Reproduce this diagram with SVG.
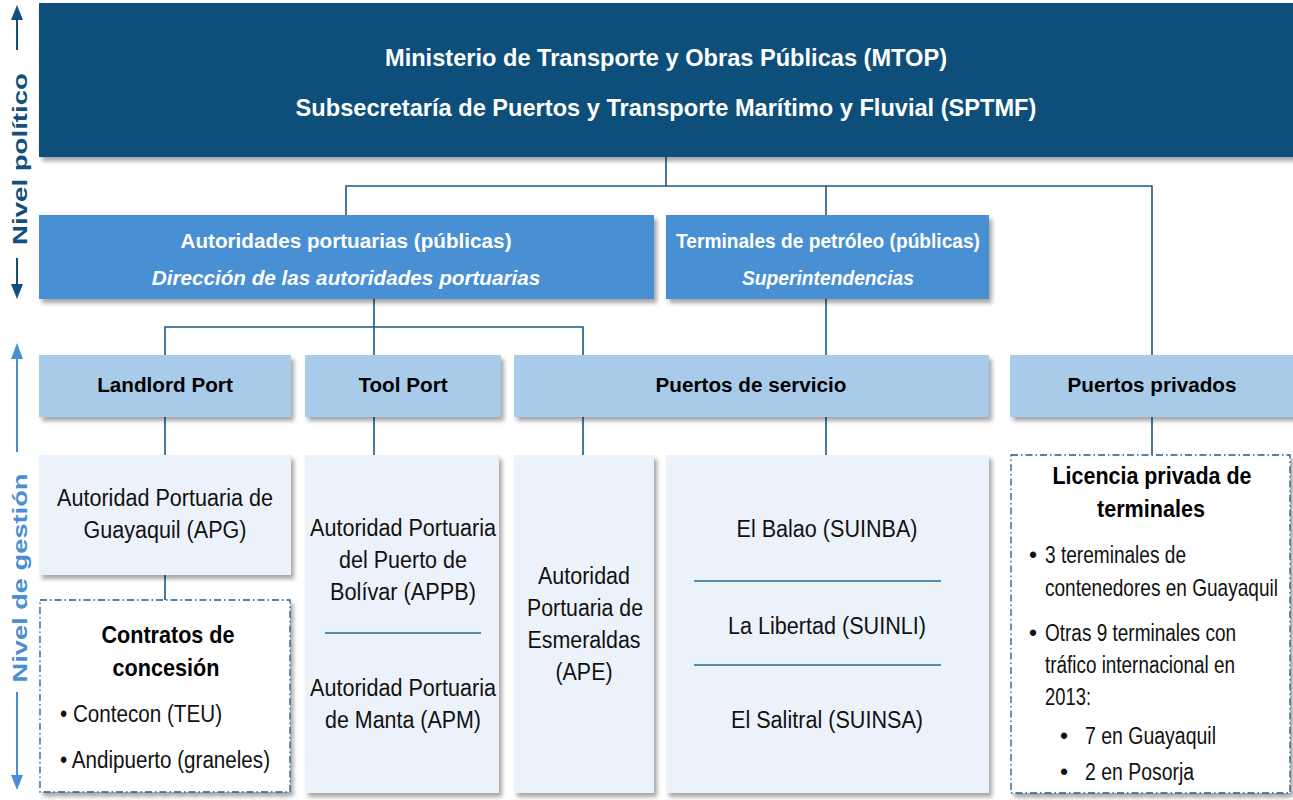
<svg xmlns="http://www.w3.org/2000/svg" width="1293" height="800" viewBox="0 0 1293 800">
<defs>
<filter id="sh" x="-5%" y="-5%" width="115%" height="120%">
<feDropShadow dx="3" dy="4" stdDeviation="2" flood-color="#000" flood-opacity="0.35"/>
</filter>
</defs>
<style>
.l1{fill:#11507a}
.l2{fill:#4a8fd4}
.l3{fill:#a8cbea}
.l4{fill:#ebf2fa}
.dash{fill:#fff;stroke:#1f5c8a;stroke-width:1.3;stroke-dasharray:7 3 1.5 3}
.con{fill:none;stroke:#1a5a85;stroke-width:1.6}
.sep{stroke:#2a6797;stroke-width:1.6}
.tw{font-family:"Liberation Sans",Arial,sans-serif;font-weight:bold;fill:#fff;text-anchor:middle}
.tb{font-family:"Liberation Sans",Arial,sans-serif;font-weight:bold;fill:#000;text-anchor:middle;font-size:20.7px}
.hb{font-family:"Liberation Sans",Arial,sans-serif;font-weight:bold;fill:#000;text-anchor:middle;font-size:24px}
.tn{font-family:"Liberation Sans",Arial,sans-serif;fill:#111;font-size:23px}
.c{text-anchor:middle}
.side{font-family:"Liberation Sans",Arial,sans-serif;font-weight:bold;font-size:21px;text-anchor:middle}
</style>
<rect width="1293" height="800" fill="#fff"/>

<g id="side">
<line x1="17" y1="50" x2="17" y2="10" stroke="#11507a" stroke-width="2"/>
<path d="M11,20 L17,5 L23,20 Z" fill="#11507a"/>
<line x1="17" y1="258" x2="17" y2="290" stroke="#11507a" stroke-width="2"/>
<path d="M11,284 L17,299 L23,284 Z" fill="#11507a"/>
<text transform="translate(26.5,159) rotate(-90)" class="side" fill="#11507a" textLength="172" lengthAdjust="spacingAndGlyphs">Nivel político</text>
<line x1="17" y1="452" x2="17" y2="350" stroke="#4a8fd4" stroke-width="2"/>
<path d="M11,359 L17,343 L23,359 Z" fill="#4a8fd4"/>
<line x1="17" y1="692" x2="17" y2="780" stroke="#4a8fd4" stroke-width="2"/>
<path d="M11,775 L17,790 L23,775 Z" fill="#4a8fd4"/>
<text transform="translate(26.5,578) rotate(-90)" class="side" fill="#4a8fd4" textLength="209" lengthAdjust="spacingAndGlyphs">Nivel de gestión</text>
</g>

<g id="connectors" class="con">
<path d="M666,157 V186 M346,215 V186 H1152 V355 M826,186 V215"/>
<path d="M374,299 V355 M165,355 V327 H583 V355"/>
<path d="M826,299 V355"/>
<path d="M165,417 V455 M374,417 V455 M583,417 V455 M826,417 V455 M1152,417 V455"/>
<path d="M165,575 V600"/>
</g>

<g id="mtop">
<rect x="39" y="3" width="1260" height="154" class="l1" filter="url(#sh)"/>
<text x="666" y="66" class="tw" font-size="23.6">Ministerio de Transporte y Obras Públicas (MTOP)</text>
<text x="666" y="116" class="tw" font-size="23.6">Subsecretaría de Puertos y Transporte Marítimo y Fluvial (SPTMF)</text>
</g>

<g id="autoridades">
<rect x="39" y="215" width="615" height="84" class="l2" filter="url(#sh)"/>
<text x="346" y="248" class="tw" font-size="20.7">Autoridades portuarias (públicas)</text>
<text x="346" y="285" class="tw" font-size="20.7" font-style="italic">Dirección de las autoridades portuarias</text>
</g>

<g id="terminales">
<rect x="666" y="215" width="323" height="84" class="l2" filter="url(#sh)"/>
<text x="828" y="248" class="tw" font-size="21" textLength="304" lengthAdjust="spacingAndGlyphs">Terminales de petróleo (públicas)</text>
<text x="828" y="285" class="tw" font-size="21" font-style="italic" textLength="172" lengthAdjust="spacingAndGlyphs">Superintendencias</text>
</g>

<g id="landlord">
<rect x="39" y="355" width="252" height="62" class="l3" filter="url(#sh)"/>
<text x="165" y="392" class="tb">Landlord Port</text>
</g>
<g id="toolport">
<rect x="305" y="355" width="196" height="62" class="l3" filter="url(#sh)"/>
<text x="403" y="392" class="tb">Tool Port</text>
</g>
<g id="servicio">
<rect x="514" y="355" width="475" height="62" class="l3" filter="url(#sh)"/>
<text x="751" y="392" class="tb">Puertos de servicio</text>
</g>
<g id="privados">
<rect x="1010" y="355" width="290" height="62" class="l3" filter="url(#sh)"/>
<text x="1152" y="392" class="tb">Puertos privados</text>
</g>

<g id="apg">
<rect x="39" y="455" width="252" height="120" class="l4" filter="url(#sh)"/>
<text x="165" y="506" class="tn c" textLength="216" lengthAdjust="spacingAndGlyphs">Autoridad Portuaria de</text>
<text x="165" y="538" class="tn c" textLength="163" lengthAdjust="spacingAndGlyphs">Guayaquil (APG)</text>
</g>

<g id="contratos">
<rect x="40" y="600" width="250" height="192" class="dash" filter="url(#sh)"/>
<text x="168" y="643" class="hb" textLength="133" lengthAdjust="spacingAndGlyphs">Contratos de</text>
<text x="166" y="676" class="hb" textLength="107" lengthAdjust="spacingAndGlyphs">concesión</text>
<text x="60" y="722" class="tn" textLength="162" lengthAdjust="spacingAndGlyphs">• Contecon (TEU)</text>
<text x="60" y="768" class="tn" textLength="210" lengthAdjust="spacingAndGlyphs">• Andipuerto (graneles)</text>
</g>

<g id="appb">
<rect x="305" y="455" width="194" height="338" class="l4" filter="url(#sh)"/>
<text x="403" y="536" class="tn c" textLength="186" lengthAdjust="spacingAndGlyphs">Autoridad Portuaria</text>
<text x="403" y="568" class="tn c" textLength="128" lengthAdjust="spacingAndGlyphs">del Puerto de</text>
<text x="403" y="600" class="tn c" textLength="146" lengthAdjust="spacingAndGlyphs">Bolívar (APPB)</text>
<line x1="325" y1="633" x2="481" y2="633" class="sep"/>
<text x="403" y="696" class="tn c" textLength="186" lengthAdjust="spacingAndGlyphs">Autoridad Portuaria</text>
<text x="403" y="728" class="tn c" textLength="156" lengthAdjust="spacingAndGlyphs">de Manta (APM)</text>
</g>

<g id="ape">
<rect x="514" y="455" width="140" height="338" class="l4" filter="url(#sh)"/>
<text x="584" y="584" class="tn c" textLength="92" lengthAdjust="spacingAndGlyphs">Autoridad</text>
<text x="585" y="616" class="tn c" textLength="116" lengthAdjust="spacingAndGlyphs">Portuaria de</text>
<text x="584" y="648" class="tn c" textLength="113" lengthAdjust="spacingAndGlyphs">Esmeraldas</text>
<text x="584" y="680" class="tn c" textLength="57" lengthAdjust="spacingAndGlyphs">(APE)</text>
</g>

<g id="superint">
<rect x="666" y="455" width="323" height="338" class="l4" filter="url(#sh)"/>
<text x="827" y="537" class="tn c" textLength="181" lengthAdjust="spacingAndGlyphs">El Balao (SUINBA)</text>
<line x1="694" y1="581" x2="941" y2="581" class="sep"/>
<text x="827" y="634" class="tn c" textLength="198" lengthAdjust="spacingAndGlyphs">La Libertad (SUINLI)</text>
<line x1="694" y1="665" x2="941" y2="665" class="sep"/>
<text x="827" y="728" class="tn c" textLength="192" lengthAdjust="spacingAndGlyphs">El Salitral (SUINSA)</text>
</g>

<g id="licencia">
<rect x="1011" y="455" width="279" height="338" class="dash" filter="url(#sh)"/>
<text x="1152" y="484" class="hb" textLength="199" lengthAdjust="spacingAndGlyphs">Licencia privada de</text>
<text x="1151" y="517" class="hb" textLength="108" lengthAdjust="spacingAndGlyphs">terminales</text>
<text x="1029" y="563" class="tn">•</text>
<text x="1045" y="563" class="tn" textLength="141" lengthAdjust="spacingAndGlyphs">3 tereminales de</text>
<text transform="translate(1045,596) scale(0.8286,1)" class="tn">contenedores en Guayaquil</text>
<text x="1029" y="641" class="tn">•</text>
<text x="1045" y="641" class="tn" textLength="191" lengthAdjust="spacingAndGlyphs">Otras 9 terminales con</text>
<text x="1045" y="673" class="tn" textLength="190" lengthAdjust="spacingAndGlyphs">tráfico internacional en</text>
<text x="1045" y="705" class="tn" textLength="46" lengthAdjust="spacingAndGlyphs">2013:</text>
<text x="1060" y="744" class="tn">•</text>
<text x="1085" y="744" class="tn" textLength="131" lengthAdjust="spacingAndGlyphs">7 en Guayaquil</text>
<text x="1060" y="780" class="tn">•</text>
<text x="1085" y="780" class="tn" textLength="109" lengthAdjust="spacingAndGlyphs">2 en Posorja</text>
</g>
</svg>
